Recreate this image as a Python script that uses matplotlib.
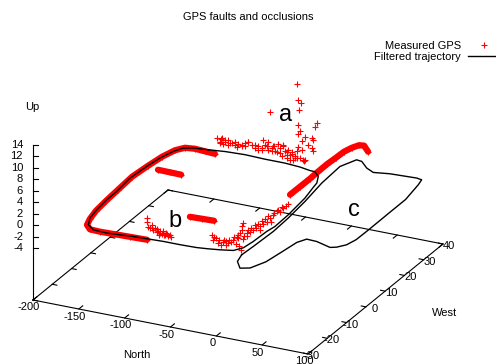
import matplotlib
matplotlib.use("Agg")
import matplotlib.pyplot as plt
from matplotlib.lines import Line2D

# ---------------- data (north, west, up in metres) ----------------
# Filtered trajectory: first (large) loop, at up = 0
loop1_north = [-127.8, -142.8, -151.5, -156.6, -161.0, -163.7, -165.7, -163.0, -162.8, -160.8,
               -157.8, -152.0, -142.3, -126.9, -113.4, -99.8, -85.6, -68.1, -49.9, -32.3,
               -21.0, -9.3, 3.2, 9.1, 11.0, 12.0, 13.9, 13.0, 9.6, 5.5,
               3.8, -2.0, -9.9, -15.7, -28.2, -45.7, -67.4, -89.9, -110.9, -127.8]
loop1_west = [26.4, 25.8, 24.7, 22.0, 17.3, 11.7, 4.0, -4.2, -9.5, -15.6,
              -20.5, -24.1, -26.2, -26.5, -26.1, -25.6, -25.4, -25.1, -25.1, -24.9,
              -24.4, -23.7, -22.7, -20.3, -16.1, -9.6, -6.2, 1.1, 11.4, 17.5,
              20.3, 23.8, 25.9, 26.0, 26.8, 27.3, 27.3, 27.6, 27.2, 26.4]
# Filtered trajectory: second loop ("c")
loop2_north = [15.2, 16.4, 17.8, 16.5, 13.3, 8.2, 6.3, 13.7, 20.0, 31.5, 42.0, 58.1, 86.3, 92.5,
               94.9, 99.6, 99.6, 99.8, 99.5, 96.6, 90.4, 84.9, 66.8, 55.4, 50.3, 47.4, 44.1,
               36.8, 28.1, 18.6, 15.2]
loop2_west = [-24.1, -18.6, -8.9, -0.6, 9.6, 20.8, 31.1, 36.2, 35.9, 33.0, 31.4, 32.4, 32.9, 32.5,
              29.6, 20.8, 12.3, 1.7, -4.8, -8.4, -10.6, -11.4, -9.7, -9.5, -12.2, -18.5, -25.2,
              -30.0, -31.1, -27.9, -24.1]
traj_up = 0.0

# Measured GPS, continuous runs of fixes
run1_north = [-117.3, -128.8, -140.3, -150.1, -156.2, -160.6, -163.2, -165.4, -163.7, -162.3,
              -160.4, -157.0, -153.1, -145.7, -134.2, -118.3, -102.4, -84.3]
run1_west = [25.0, 25.3, 25.6, 25.1, 22.8, 18.2, 12.1, 4.9, -3.2, -10.0,
             -16.2, -20.9, -24.3, -26.3, -26.5, -26.3, -26.1, -25.9]
run1_up = 0.0
run2_north = [-150.1, -136.9, -124.5]
run2_west = [11.1, 11.0, 10.9]
run2_up = 0.0
run3_north = [-71.3, -58.5, -45.9]
run3_west = [-9.8, -9.6, -9.4]
run3_up = 0.0
run4_north = [11.4, 11.6, 11.7, 11.2, 11.0, 11.9, 12.5, 15.2, 18.7, 23.6, 33.6]
run4_west = [2.8, 7.9, 13.0, 17.4, 22.1, 26.4, 30.3, 33.1, 35.1, 35.4, 32.7]
run4_up = 3.0

# Measured GPS, fault "a" (altitude errors along west = 28)
fault_a_north = [-34.4, -32.7, -30.0, -31.6, -63.5, -32.7, -11.9, -14.4, -30.8, -32.7, -25.3,
                 -18.0, -16.3, -28.9, -21.7, -18.0, -16.3, -28.9, -32.7, -25.3, -26.4,
                 -121.7, -118.1, -112.6, -105.3, -98.1, -90.8, -83.5, -76.3, -70.8, -69.0,
                 -61.7, -54.5, -52.6, -47.2, -41.7, -36.3, -34.4, -30.8, -38.1, -45.3,
                 -58.1, -50.8, -41.7, -27.2, -109.3, -94.1, -87.5, -79.9, -65.7, -49.3,
                 -72.3, -45.0, -34.1, -101.7, -117.0, -59.2, -39.5,
                 -116.2, -118.1, -112.6, -109.0, -101.7, -94.4, -87.2, -79.9, -72.6, -67.1,
                 -65.4, -59.9, -56.2, -49.0, -43.6, -39.9, -36.3, -45.3, -52.6, -61.7,
                 -76.3, -90.8, -99.9, -107.2, -114.5]
fault_a_up = [13.9, 11.2, 10.8, 9.5, 8.1, 6.8, 7.8, 7.1, 5.8, 5.2, 5.0,
              5.1, 4.8, 4.1, 3.8, 3.3, 2.8, 2.7, 3.1, 1.0, 0.7,
              1.8, 1.3, 1.3, 1.4, 1.5, 1.9, 1.7, 1.8, 3.1, 2.3,
              1.9, 2.8, 2.2, 1.8, 1.4, 1.3, 2.2, 1.2, 0.6, 0.7,
              1.5, 0.8, 0.5, 1.0, 1.8, 1.2, 2.2, 1.3, 2.8, 2.6,
              1.3, 1.7, 1.1, 1.2, 1.8, 2.3, 2.0,
              2.0, 1.0, 1.8, 1.0, 1.7, 1.5, 2.1, 1.9, 1.6, 2.1,
              1.5, 2.3, 1.5, 2.9, 2.2, 1.5, 1.0, 1.3, 1.4, 1.4,
              1.2, 1.3, 1.0, 1.4, 0.9]
fault_a_west = 28.0

# Measured GPS, fault "b" scatter (up = 0)
fault_b_north = [-108.0, -97.5, -96.3, -89.8, -84.7, -80.1, -73.9, -69.9,
                 -90.2, -84.3, -77.5, -79.9, -75.1, -68.9, -94.1, -103.7,
                 -92.8, -87.3, -82.6, -74.8, -79.1, -73.1, -66.4]
fault_b_west = [-14.8, -19.0, -17.7, -20.2, -20.7, -21.2, -21.5, -21.7,
                -18.9, -20.2, -21.3, -19.7, -20.4, -21.3, -19.7, -16.7,
                -19.2, -19.3, -20.0, -21.6, -22.1, -20.8, -22.0]
# Measured GPS, noisy fixes near the junction (up = 0)
junction_north = [-32.8, -26.0, -18.0, -14.2, -9.2, -8.4, -8.9, -9.7, -15.3, -17.6, 8.9, -3.9,
                  -1.7, 0.7, 1.2, 0.4, -0.8, 1.3, 0.8, -25.7, -13.8, -9.5, -8.3, -6.4,
                  -2.4, -1.4, 0.5, -3.3, -1.7, -0.4, 2.4, 1.3,
                  -28.6, -21.0, -16.6, -12.2, -11.0, -9.7, -11.6, -6.3, -5.8, -5.5, -3.9, -3.7,
                  -3.2, -3.8, 5.3, -1.8, -1.4, -1.2, 4.8, -0.7, -0.9, 3.1, -13.8]
junction_west = [-16.8, -19.2, -20.4, -19.6, -19.4, -17.2, -15.2, -13.1, -9.5, -7.6, -21.6, -12.4,
                 -10.1, -7.7, -4.5, -2.4, 1.7, 4.1, 6.8, -17.9, -21.0, -20.5, -18.5, -15.7,
                 -11.4, -8.8, -6.0, -14.1, -19.0, -0.4, 1.8, 5.5,
                 -17.6, -18.7, -18.2, -17.6, -15.6, -14.2, -11.2, -10.6, -9.3, -7.3, -6.5, -4.6,
                 -3.3, -1.4, -4.2, 0.7, 2.7, 4.6, -9.7, -13.8, -15.7, -19.7, -18.5]

north_ticks = [-200, -150, -100, -50, 0, 50, 100]
west_ticks = [-30, -20, -10, 0, 10, 20, 30, 40]
up_ticks = [-4, -2, 0, 2, 4, 6, 8, 10, 12, 14]

# ---------------- view (gnuplot-like orthographic 3-D box) ----------------
N0, N1 = -200, 100
W0, W1 = -30, 40
ZBASE, ZTOP = -13, 14          # ticslevel 0.5 below zmin=-4
ORIGIN = (33.0, 300.0)         # pixel of (N0, W0, ZBASE)
VN = (275.0, 54.0)             # pixel span of the full north range
VW = (135.0, -110.0)           # pixel span of the full west range
VZ = 155.0                     # pixel height of ZBASE..ZTOP


def P(n, w, u):
    a = (n - N0) / (N1 - N0)
    b = (w - W0) / (W1 - W0)
    c = (u - ZBASE) / (ZTOP - ZBASE)
    x = ORIGIN[0] + a * VN[0] + b * VW[0]
    y = ORIGIN[1] + a * VN[1] + b * VW[1] - c * VZ
    return x, y


def proj(ns, ws, us):
    xs, ys = [], []
    for i, n in enumerate(ns):
        w = ws[i] if isinstance(ws, (list, tuple)) else ws
        u = us[i] if isinstance(us, (list, tuple)) else us
        x, y = P(n, w, u)
        xs.append(x)
        ys.append(y)
    return xs, ys


plt.rcParams['font.family'] = ['Liberation Sans', 'DejaVu Sans']
plt.rcParams['font.size'] = 8

W_PX, H_PX = 496, 364
fig = plt.figure(figsize=(W_PX / 100, H_PX / 100), dpi=100)
ax = fig.add_axes([0, 0, 1, 1])
ax.set_xlim(0, W_PX)
ax.set_ylim(H_PX, 0)
ax.axis('off')

LW = 0.8
# base rectangle and vertical axis
base = [(N0, W0), (N1, W0), (N1, W1), (N0, W1), (N0, W0)]
bx, by = proj([p[0] for p in base], [p[1] for p in base], ZBASE)
ax.plot(bx, by, color='black', lw=LW, zorder=1)
zx, zy = proj([N0, N0], W0, [ZBASE, ZTOP])
ax.plot(zx, zy, color='black', lw=LW, zorder=1)

# north ticks (front + mirrored back)
for n in north_ticks:
    x0, y0 = P(n, W0, ZBASE)
    x1, y1 = P(n, W0 + 2.0, ZBASE)
    ax.plot([x0, x1], [y0, y1], color='black', lw=LW, zorder=1)
    x2, y2 = P(n, W1, ZBASE)
    x3, y3 = P(n, W1 - 2.0, ZBASE)
    ax.plot([x2, x3], [y2, y3], color='black', lw=LW, zorder=1)
    ax.text(x0 - 4, y0 + 7.5, f"{n}", ha='center', va='center')
# west ticks (front-right + mirrored left)
for w in west_ticks:
    x0, y0 = P(N1, w, ZBASE)
    x1, y1 = P(N1 - 5.0, w, ZBASE)
    ax.plot([x0, x1], [y0, y1], color='black', lw=LW, zorder=1)
    x2, y2 = P(N0, w, ZBASE)
    x3, y3 = P(N0 + 5.0, w, ZBASE)
    ax.plot([x2, x3], [y2, y3], color='black', lw=LW, zorder=1)
    ax.text(x0 + 12, y0 + 2, f"{w}", ha='right', va='center')
# up ticks
for z in up_ticks:
    x0, y0 = P(N0, W0, z)
    ax.plot([x0, x0 + 5], [y0, y0], color='black', lw=LW, zorder=1)
    ax.text(x0 - 10, y0, f"{z}", ha='right', va='center')

ax.text(32.5, 107.5, "Up", ha='center', va='center')
ax.text(136.5, 355.5, "North", ha='center', va='center')
ax.text(444.5, 312.5, "West", ha='center', va='center')
ax.text(248, 17, "GPS faults and occlusions", ha='center', va='center')

# measured GPS
RED = '#ff0000'
MS = 5
MEW = 0.8
for ns, ws, us in [(run1_north, run1_west, run1_up), (run2_north, run2_west, run2_up),
                   (run3_north, run3_west, run3_up), (run4_north, run4_west, run4_up)]:
    xs, ys = proj(ns, ws, us)
    ax.plot(xs, ys, color=RED, lw=4.5, solid_capstyle='round', solid_joinstyle='round',
            marker='+', ms=MS, mew=MEW, zorder=2)
for ns, ws, us in [(fault_a_north, fault_a_west, fault_a_up),
                   (fault_b_north, fault_b_west, 0.0),
                   (junction_north, junction_west, 0.0)]:
    xs, ys = proj(ns, ws, us)
    ax.plot(xs, ys, ls='none', marker='+', ms=MS, mew=MEW, color=RED, zorder=2)

# filtered trajectory
for ns, ws in [(loop1_north, loop1_west), (loop2_north, loop2_west)]:
    xs, ys = proj(ns, ws, traj_up)
    ax.plot(xs, ys, color='black', lw=1.0, zorder=3)

# annotations
for txt, n, w, u in [("a", -46.4, 28.0, 7.1), ("b", -74.0, -16.3, 0.0), ("c", 72.6, 6.9, 0.0)]:
    x, y = P(n, w, u)
    ax.text(x, y, txt, fontsize=17, ha='center', va='baseline', zorder=4)

h_gps = Line2D([], [], ls='none', marker='+', ms=MS, mew=MEW, color=RED)
h_trj = Line2D([], [], color='black', lw=1.0)
ax.legend([h_gps, h_trj], ["Measured GPS", "Filtered trajectory"], loc='upper right',
          bbox_to_anchor=(501 / W_PX, 1 - 41 / H_PX), bbox_transform=fig.transFigure,
          frameon=False, markerfirst=False, handlelength=3, handletextpad=0.63,
          labelspacing=0.05, borderpad=0, borderaxespad=0, fontsize=8)

fig.savefig("out.png", dpi=100)
